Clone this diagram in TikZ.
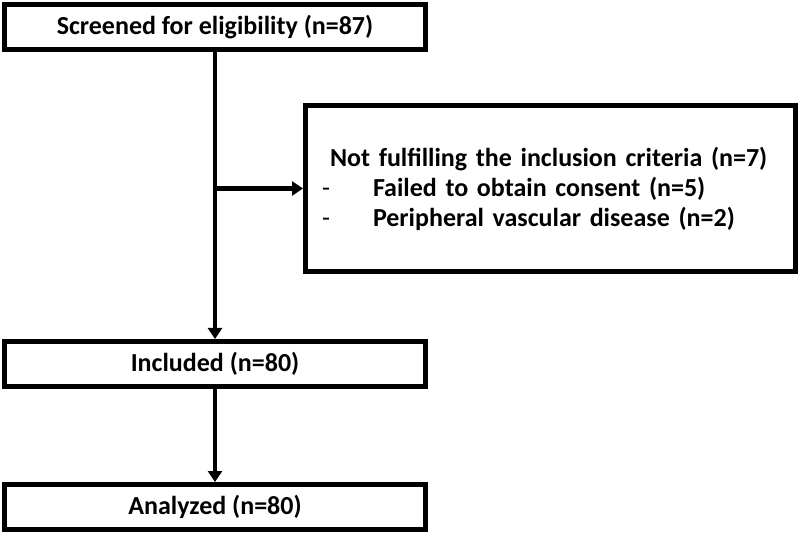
\documentclass[tikz,border=0pt]{standalone}
\usepackage{fontspec}
\setmainfont{Carlito}
\usetikzlibrary{arrows.meta}

\begin{document}
\begin{tikzpicture}[
        x=1pt, y=-1pt,
        every node/.style={
            draw,
            line width=5pt,
            align=center,
            inner sep=0pt,
            font=\fontsize{26}{30}\selectfont\bfseries
        },
        flowbox/.style={
            minimum width=421pt,
            minimum height=45pt
        },
        line width=4.5pt,
        >={Triangle[width=14pt,length=11pt]}
    ]

        \useasboundingbox (0,0) rectangle (800,534);

        \node[flowbox] (screened) at (215,27)
        {Screened for eligibility (n=87)};

        \node[minimum width=490pt, minimum height=166pt,
              text width=457pt, align=left] (excluded) at (550.5,188.5)
        {\hspace*{8pt}Not fulfilling the inclusion criteria (n=7)\\
         \makebox[51pt][l]{\mdseries-}Failed to obtain consent (n=5)\\
         \makebox[51pt][l]{\mdseries-}Peripheral vascular disease (n=2)};

        \node[flowbox] (included) at (215,364)
        {Included (n=80)};

        \node[flowbox] (analyzed) at (215,507)
        {Analyzed (n=80)};

        \coordinate (branch) at (screened.south |- excluded.west);

        \draw[->] (screened) -- (included);
        \draw[->] (branch) -- (excluded);
        \draw[->] (included) -- (analyzed);

    \end{tikzpicture}
\end{document}
